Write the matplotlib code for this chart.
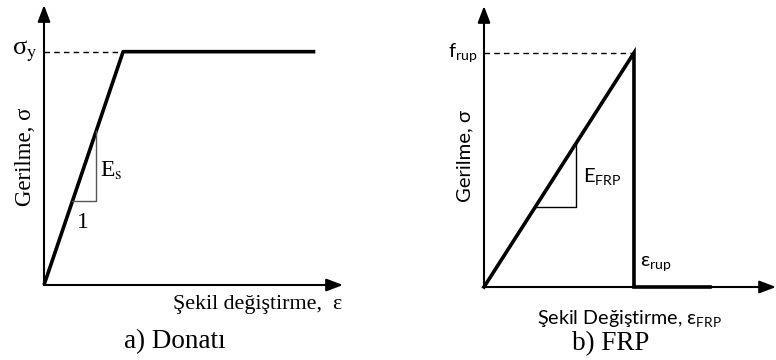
import matplotlib
matplotlib.use("Agg")
import matplotlib.pyplot as plt

plt.rcParams['mathtext.rm'] = 'Lato'
plt.rcParams['mathtext.it'] = 'Lato:italic'
plt.rcParams['mathtext.sf'] = 'Lato'

SERIF = ['Liberation Serif', 'DejaVu Serif']
SANS = ['Lato', 'DejaVu Sans']

# a) Donati (steel): strain/stress normalised by yield values
steel_eps = [0.0, 1.0, 3.43]
steel_sig = [0.0, 1.0, 1.0]
steel_tri_eps = [0.36, 0.66, 0.66]
steel_tri_sig = [0.36, 0.36, 0.66]

# b) FRP: linear up to rupture, then drop
frp_eps = [0.0, 1.0, 1.0, 1.507]
frp_sig = [0.0, 1.0, 0.0, 0.0]
frp_tri_eps = [0.34, 0.613, 0.613]
frp_tri_sig = [0.34, 0.34, 0.613]

W, H = 776, 360
fig = plt.figure(figsize=(W / 100, H / 100), dpi=100)


def make_axes(x0, y0, x1, y1, xmax, ymax):
    ax = fig.add_axes([x0 / W, (H - y0) / H, (x1 - x0) / W, (y0 - y1) / H])
    ax.set_xlim(0, xmax)
    ax.set_ylim(0, ymax)
    ax.axis('off')
    arrow = dict(arrowstyle='-|>,head_length=1.0,head_width=0.38', color='black',
                 lw=1.5, shrinkA=0, shrinkB=0)
    ax.annotate('', xy=(xmax, 0), xytext=(0, 0), arrowprops=arrow, annotation_clip=False)
    ax.annotate('', xy=(0, ymax), xytext=(0, 0), arrowprops=arrow, annotation_clip=False)
    return ax


# left panel
ax1 = make_axes(44, 285, 343, 5, 3.78, 1.20)
ax1.plot(steel_eps, steel_sig, color='black', lw=2.6, solid_capstyle='butt', clip_on=False)
ax1.plot([0, steel_eps[1]], [1, 1], color='black', lw=1, ls=(0, (4, 3)))
ax1.plot(steel_tri_eps, steel_tri_sig, color='#555555', lw=1)
ax1.text(-0.09, 1.0, 'σ$_\\mathrm{y}$', family=SERIF, math_fontfamily='stix',
         fontsize=19, ha='right', va='center')
ax1.text(0.71, 0.49, 'E$_\\mathrm{s}$', family=SERIF, math_fontfamily='stix',
         fontsize=17, ha='left', va='center')
ax1.text(0.49, 0.27, '1', family=SERIF, fontsize=17, ha='center', va='center')
ax1.text(-0.24, 0.55, 'Gerilme, σ', family=SERIF, fontsize=16.5, rotation=90,
         ha='center', va='center')
ax1.text(3.77, -0.045, 'Şekil değiştirme,  ε', family=SERIF, fontsize=15.8,
         ha='right', va='top')
ax1.text(1.66, -0.19, 'a) Donatı', family=SERIF, fontsize=19.5, ha='center', va='top')

# right panel
ax2 = make_axes(484, 287, 776, 6, 1.947, 1.20)
ax2.plot(frp_eps, frp_sig, color='black', lw=2.6, solid_joinstyle='miter', clip_on=False)
ax2.plot([0, 1], [1, 1], color='black', lw=1, ls=(0, (4, 3)))
ax2.plot(frp_tri_eps, frp_tri_sig, color='black', lw=1)
ax2.text(-0.04, 1.0, 'f$_\\mathrm{rup}$', family=SANS, math_fontfamily='custom',
         fontsize=14.5, ha='right', va='center')
ax2.text(0.66, 0.47, 'E$_\\mathrm{FRP}$', family=SANS, math_fontfamily='custom',
         fontsize=14.5, ha='left', va='center')
ax2.text(1.04, 0.1, 'ε$_\\mathrm{rup}$', family=SANS, math_fontfamily='custom',
         fontsize=14.5, ha='left', va='center')
ax2.text(-0.127, 0.56, 'Gerilme, σ', family=SANS, fontsize=14.6, rotation=90,
         ha='center', va='center')
ax2.text(0.973, -0.09, 'Şekil Değiştirme, ε$_\\mathrm{FRP}$', family=SANS,
         math_fontfamily='custom', fontsize=14.2, ha='center', va='top')
ax2.text(0.847, -0.19, 'b) FRP', family=SERIF, fontsize=19.5, ha='center', va='top')

fig.savefig('out.png', dpi=100)
